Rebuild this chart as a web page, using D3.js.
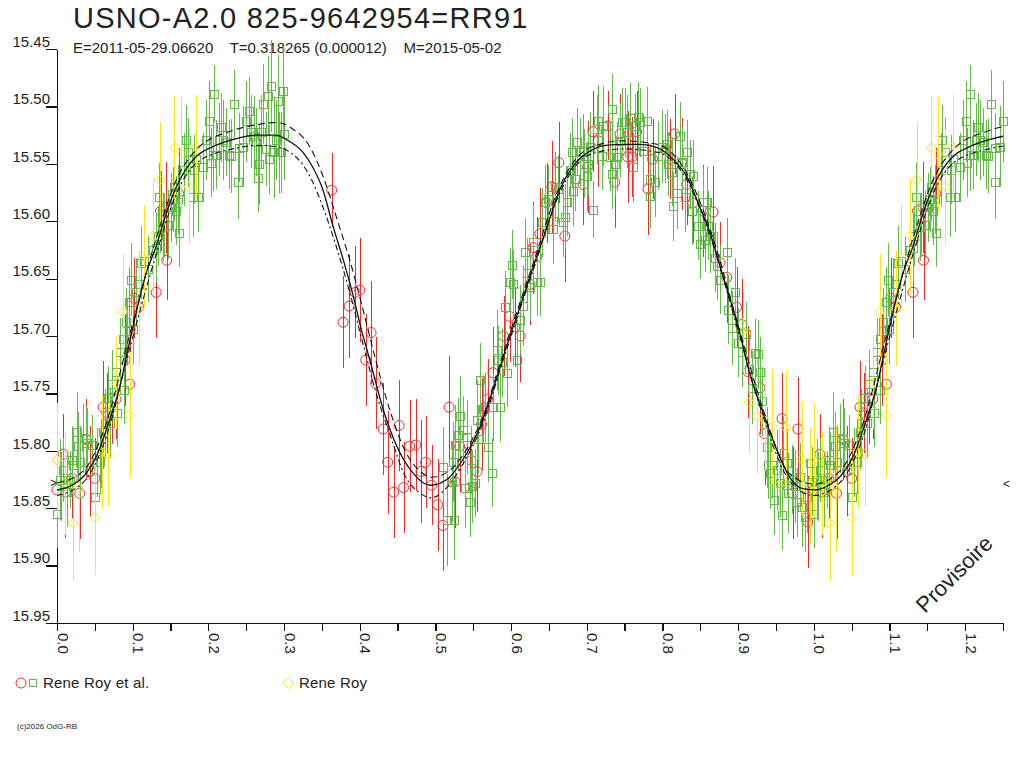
<!DOCTYPE html>
<html>
<head>
<meta charset="utf-8">
<script src="https://cdn.jsdelivr.net/npm/d3@7"></script>
<style>
  body { margin: 0; background: #fff; }
  svg { display: block; font-family: "Liberation Sans", Arial, sans-serif; }
</style>
</head>
<body>
<svg id="chart" width="1024" height="768"></svg>
<script>
let titleText = "USNO-A2.0 825-9642954=RR91";
let subtitleText = "E=2011-05-29.06620    T=0.318265 (0.000012)    M=2015-05-02";
let legendLabels = ["Rene Roy et al.", "Rene Roy"];
let stampText = "(c)2026 OdG-RB";
let watermark = "Provisoire";

let yTicks = [15.45, 15.50, 15.55, 15.60, 15.65, 15.70, 15.75, 15.80, 15.85, 15.90, 15.95];
let xTicks = [0, 0.05, 0.1, 0.15, 0.2, 0.25, 0.3, 0.35, 0.4, 0.45, 0.5, 0.55, 0.6, 0.65,
  0.7, 0.75, 0.8, 0.85, 0.9, 0.95, 1.0, 1.05, 1.1, 1.15, 1.2, 1.25];
let xLabelTicks = [0, 0.1, 0.2, 0.3, 0.4, 0.5, 0.6, 0.7, 0.8, 0.9, 1.0, 1.1, 1.2];
let minMark = 15.828;

// fitted light curve and its envelope: [phase, mag]
let curveMid = [
  [0.000, 15.834], [0.020, 15.830], [0.034, 15.823], [0.052, 15.805], [0.065, 15.782],
  [0.083, 15.744], [0.096, 15.705], [0.108, 15.670], [0.118, 15.645], [0.131, 15.622],
  [0.144, 15.594], [0.157, 15.571], [0.170, 15.555], [0.185, 15.543], [0.206, 15.535],
  [0.232, 15.529], [0.263, 15.525], [0.289, 15.525], [0.306, 15.530], [0.325, 15.540],
  [0.338, 15.553], [0.351, 15.572], [0.365, 15.605], [0.378, 15.633], [0.391, 15.664],
  [0.402, 15.694], [0.413, 15.720], [0.431, 15.764], [0.449, 15.796], [0.470, 15.819],
  [0.493, 15.830], [0.515, 15.825], [0.536, 15.808], [0.559, 15.779], [0.576, 15.747],
  [0.594, 15.709], [0.612, 15.674], [0.629, 15.640], [0.647, 15.606], [0.664, 15.573],
  [0.682, 15.552], [0.704, 15.539], [0.725, 15.534], [0.748, 15.533], [0.770, 15.533],
  [0.793, 15.536], [0.814, 15.546], [0.832, 15.561], [0.849, 15.587], [0.863, 15.610],
  [0.876, 15.639], [0.889, 15.667], [0.902, 15.697], [0.915, 15.732], [0.933, 15.767],
  [0.951, 15.799], [0.968, 15.823], [0.985, 15.833], [1.000, 15.834]
];
let curveUpper = [
  [0.000, 15.828], [0.034, 15.818], [0.065, 15.776], [0.096, 15.699], [0.131, 15.615],
  [0.157, 15.565], [0.185, 15.537], [0.232, 15.521], [0.263, 15.516], [0.290, 15.514],
  [0.310, 15.519], [0.333, 15.534], [0.351, 15.560], [0.369, 15.596], [0.386, 15.632],
  [0.404, 15.676], [0.420, 15.718], [0.440, 15.765], [0.460, 15.800], [0.480, 15.818],
  [0.495, 15.823], [0.515, 15.819], [0.536, 15.804], [0.559, 15.776], [0.594, 15.706],
  [0.629, 15.637], [0.664, 15.570], [0.704, 15.536], [0.748, 15.530], [0.793, 15.533],
  [0.832, 15.558], [0.863, 15.607], [0.902, 15.695], [0.933, 15.764], [0.968, 15.820],
  [1.000, 15.829]
];
let curveLower = [
  [0.000, 15.839], [0.034, 15.828], [0.065, 15.788], [0.096, 15.711], [0.131, 15.629],
  [0.157, 15.577], [0.185, 15.549], [0.232, 15.537], [0.263, 15.534], [0.290, 15.535],
  [0.310, 15.541], [0.325, 15.551], [0.338, 15.566], [0.351, 15.587], [0.369, 15.622],
  [0.386, 15.660], [0.404, 15.706], [0.420, 15.746], [0.440, 15.786], [0.460, 15.822],
  [0.480, 15.837], [0.495, 15.841], [0.515, 15.832], [0.536, 15.812], [0.559, 15.782],
  [0.594, 15.712], [0.629, 15.643], [0.664, 15.576], [0.704, 15.542], [0.748, 15.537],
  [0.793, 15.540], [0.832, 15.564], [0.863, 15.613], [0.902, 15.700], [0.933, 15.770],
  [0.968, 15.826], [1.000, 15.839]
];

// observations: [phase, mag, error]
let royEtAlRed = [
  [0.000, 15.834, 0.040], [0.008, 15.803, 0.035], [0.011, 15.836, 0.040], [0.020, 15.824, 0.035],
  [0.030, 15.837, 0.040], [0.038, 15.790, 0.035], [0.044, 15.818, 0.040], [0.050, 15.824, 0.035],
  [0.061, 15.762, 0.040], [0.066, 15.767, 0.035], [0.073, 15.754, 0.040], [0.078, 15.755, 0.035],
  [0.090, 15.721, 0.040], [0.096, 15.742, 0.045], [0.102, 15.667, 0.035], [0.108, 15.675, 0.040],
  [0.131, 15.662, 0.040], [0.137, 15.591, 0.035], [0.144, 15.588, 0.040], [0.145, 15.634, 0.035],
  [0.161, 15.576, 0.040], [0.363, 15.573, 0.032], [0.378, 15.688, 0.040], [0.386, 15.674, 0.045],
  [0.394, 15.662, 0.040], [0.400, 15.660, 0.045], [0.408, 15.721, 0.040], [0.415, 15.697, 0.045],
  [0.421, 15.741, 0.040], [0.431, 15.781, 0.040], [0.437, 15.810, 0.045], [0.445, 15.836, 0.040],
  [0.452, 15.778, 0.040], [0.458, 15.832, 0.040], [0.466, 15.796, 0.040], [0.474, 15.795, 0.040],
  [0.481, 15.818, 0.045], [0.487, 15.810, 0.040], [0.495, 15.830, 0.035], [0.503, 15.847, 0.040],
  [0.510, 15.865, 0.040], [0.518, 15.762, 0.045], [0.526, 15.827, 0.040], [0.532, 15.796, 0.040],
  [0.546, 15.832, 0.040], [0.555, 15.818, 0.035], [0.561, 15.777, 0.040], [0.569, 15.755, 0.035],
  [0.576, 15.732, 0.040], [0.590, 15.700, 0.035], [0.598, 15.683, 0.040], [0.605, 15.692, 0.035],
  [0.612, 15.700, 0.040], [0.625, 15.655, 0.035], [0.629, 15.623, 0.040], [0.634, 15.631, 0.035],
  [0.638, 15.611, 0.040], [0.647, 15.584, 0.035], [0.654, 15.570, 0.040], [0.663, 15.549, 0.035],
  [0.671, 15.613, 0.040], [0.695, 15.568, 0.035], [0.701, 15.553, 0.040], [0.708, 15.522, 0.035],
  [0.715, 15.530, 0.040], [0.728, 15.517, 0.030], [0.737, 15.566, 0.040], [0.744, 15.524, 0.035],
  [0.754, 15.544, 0.040], [0.760, 15.544, 0.035], [0.766, 15.522, 0.035], [0.781, 15.572, 0.040],
  [0.787, 15.546, 0.035], [0.810, 15.546, 0.035], [0.816, 15.524, 0.035], [0.826, 15.550, 0.040],
  [0.832, 15.568, 0.035], [0.840, 15.584, 0.035], [0.853, 15.591, 0.040], [0.867, 15.592, 0.040],
  [0.876, 15.636, 0.035], [0.885, 15.649, 0.040], [0.898, 15.675, 0.035], [0.905, 15.690, 0.040],
  [0.913, 15.731, 0.040], [0.929, 15.745, 0.040], [0.935, 15.785, 0.045], [0.958, 15.772, 0.040],
  [0.972, 15.837, 0.040], [0.979, 15.781, 0.045], [0.992, 15.862, 0.040]
];
let royEtAlGreen = [
  [0.000, 15.855, 0.030], [0.004, 15.825, 0.035], [0.005, 15.831, 0.030], [0.008, 15.817, 0.028],
  [0.011, 15.825, 0.032], [0.013, 15.836, 0.030], [0.017, 15.825, 0.025], [0.020, 15.808, 0.030],
  [0.021, 15.812, 0.028], [0.026, 15.784, 0.035], [0.028, 15.796, 0.030], [0.030, 15.810, 0.032],
  [0.034, 15.789, 0.030], [0.038, 15.790, 0.028], [0.040, 15.793, 0.030], [0.046, 15.795, 0.026],
  [0.050, 15.840, 0.030], [0.053, 15.810, 0.030], [0.057, 15.810, 0.028], [0.058, 15.802, 0.030],
  [0.061, 15.784, 0.032], [0.063, 15.776, 0.030], [0.067, 15.754, 0.028], [0.070, 15.776, 0.030],
  [0.073, 15.742, 0.030], [0.078, 15.731, 0.028], [0.079, 15.767, 0.030], [0.083, 15.714, 0.030],
  [0.087, 15.703, 0.026], [0.088, 15.747, 0.030], [0.091, 15.688, 0.030], [0.092, 15.696, 0.028],
  [0.095, 15.670, 0.030], [0.098, 15.651, 0.032], [0.100, 15.694, 0.030], [0.104, 15.662, 0.030],
  [0.108, 15.655, 0.028], [0.111, 15.636, 0.032], [0.115, 15.635, 0.030], [0.120, 15.642, 0.028],
  [0.127, 15.625, 0.030], [0.131, 15.623, 0.030], [0.133, 15.613, 0.026], [0.135, 15.579, 0.030],
  [0.140, 15.605, 0.030], [0.141, 15.603, 0.028], [0.147, 15.603, 0.030], [0.151, 15.588, 0.030],
  [0.153, 15.581, 0.028], [0.155, 15.570, 0.030], [0.157, 15.591, 0.030], [0.160, 15.581, 0.030],
  [0.161, 15.610, 0.030], [0.168, 15.555, 0.032], [0.170, 15.529, 0.030], [0.173, 15.540, 0.030],
  [0.180, 15.579, 0.035], [0.181, 15.555, 0.030], [0.184, 15.546, 0.032], [0.186, 15.579, 0.030],
  [0.193, 15.553, 0.030], [0.197, 15.529, 0.035], [0.201, 15.513, 0.035], [0.203, 15.549, 0.030],
  [0.206, 15.542, 0.032], [0.207, 15.489, 0.025], [0.210, 15.542, 0.030], [0.214, 15.529, 0.032],
  [0.217, 15.518, 0.030], [0.219, 15.529, 0.035], [0.223, 15.531, 0.030], [0.227, 15.542, 0.030],
  [0.230, 15.543, 0.032], [0.234, 15.498, 0.030], [0.239, 15.566, 0.032], [0.240, 15.536, 0.030],
  [0.246, 15.535, 0.035], [0.250, 15.513, 0.035], [0.254, 15.504, 0.030], [0.256, 15.522, 0.032],
  [0.260, 15.526, 0.035], [0.263, 15.531, 0.030], [0.266, 15.562, 0.030], [0.267, 15.550, 0.035],
  [0.269, 15.522, 0.032], [0.272, 15.498, 0.035], [0.276, 15.537, 0.032], [0.279, 15.491, 0.035],
  [0.280, 15.546, 0.030], [0.283, 15.482, 0.040], [0.287, 15.540, 0.040], [0.289, 15.529, 0.035],
  [0.292, 15.495, 0.040], [0.293, 15.540, 0.035], [0.296, 15.540, 0.035], [0.299, 15.487, 0.040],
  [0.300, 15.524, 0.040],
  [0.510, 15.814, 0.035], [0.515, 15.860, 0.040], [0.522, 15.827, 0.035], [0.523, 15.810, 0.035],
  [0.524, 15.860, 0.035], [0.526, 15.795, 0.035], [0.530, 15.786, 0.032], [0.532, 15.770, 0.035],
  [0.536, 15.782, 0.030], [0.539, 15.832, 0.035], [0.542, 15.788, 0.032], [0.546, 15.845, 0.030],
  [0.547, 15.808, 0.030], [0.548, 15.831, 0.032], [0.552, 15.828, 0.030], [0.555, 15.773, 0.035],
  [0.556, 15.790, 0.030], [0.559, 15.738, 0.032], [0.563, 15.764, 0.030], [0.565, 15.762, 0.030],
  [0.569, 15.797, 0.030], [0.575, 15.819, 0.030], [0.576, 15.762, 0.030], [0.581, 15.712, 0.035],
  [0.583, 15.721, 0.030], [0.585, 15.762, 0.030], [0.588, 15.723, 0.030], [0.592, 15.675, 0.032],
  [0.594, 15.732, 0.030], [0.598, 15.653, 0.030], [0.601, 15.638, 0.030], [0.602, 15.655, 0.030],
  [0.608, 15.721, 0.035], [0.612, 15.686, 0.030], [0.616, 15.674, 0.035], [0.618, 15.627, 0.030],
  [0.621, 15.645, 0.030], [0.625, 15.657, 0.030], [0.629, 15.618, 0.032], [0.634, 15.653, 0.030],
  [0.638, 15.653, 0.030], [0.641, 15.601, 0.030], [0.645, 15.583, 0.032], [0.649, 15.581, 0.030],
  [0.655, 15.607, 0.030], [0.656, 15.600, 0.028], [0.658, 15.570, 0.030], [0.662, 15.572, 0.030],
  [0.668, 15.601, 0.030], [0.671, 15.596, 0.028], [0.674, 15.583, 0.030], [0.678, 15.555, 0.032],
  [0.680, 15.540, 0.030], [0.682, 15.574, 0.030], [0.684, 15.563, 0.028], [0.687, 15.531, 0.030],
  [0.691, 15.540, 0.030], [0.695, 15.539, 0.032], [0.697, 15.550, 0.030], [0.700, 15.561, 0.030],
  [0.701, 15.550, 0.028], [0.704, 15.535, 0.030], [0.708, 15.590, 0.025], [0.713, 15.520, 0.030],
  [0.715, 15.513, 0.032], [0.720, 15.543, 0.030], [0.721, 15.517, 0.035], [0.731, 15.544, 0.030],
  [0.733, 15.502, 0.030], [0.734, 15.559, 0.030], [0.737, 15.550, 0.028], [0.740, 15.544, 0.030],
  [0.744, 15.530, 0.032], [0.746, 15.514, 0.030], [0.750, 15.514, 0.030], [0.753, 15.522, 0.032],
  [0.757, 15.510, 0.030], [0.761, 15.553, 0.030], [0.764, 15.517, 0.028], [0.768, 15.509, 0.030],
  [0.770, 15.514, 0.030], [0.774, 15.539, 0.032], [0.779, 15.513, 0.030], [0.783, 15.563, 0.030],
  [0.784, 15.578, 0.028], [0.790, 15.566, 0.030], [0.794, 15.543, 0.030], [0.799, 15.535, 0.032],
  [0.803, 15.537, 0.030], [0.806, 15.533, 0.030], [0.807, 15.550, 0.028], [0.812, 15.557, 0.030],
  [0.814, 15.587, 0.030], [0.819, 15.575, 0.032], [0.823, 15.526, 0.030], [0.826, 15.548, 0.030],
  [0.830, 15.579, 0.030], [0.832, 15.540, 0.028], [0.836, 15.559, 0.030], [0.839, 15.591, 0.030],
  [0.840, 15.561, 0.032], [0.847, 15.604, 0.030], [0.849, 15.620, 0.030], [0.853, 15.583, 0.030],
  [0.856, 15.616, 0.028], [0.859, 15.583, 0.030], [0.860, 15.604, 0.030], [0.863, 15.613, 0.032],
  [0.869, 15.632, 0.030], [0.872, 15.639, 0.030], [0.876, 15.651, 0.030], [0.885, 15.627, 0.030],
  [0.886, 15.677, 0.030], [0.892, 15.693, 0.032], [0.896, 15.662, 0.030], [0.900, 15.706, 0.030],
  [0.905, 15.714, 0.030], [0.911, 15.698, 0.028], [0.915, 15.729, 0.030], [0.919, 15.745, 0.032],
  [0.922, 15.715, 0.030], [0.926, 15.716, 0.030], [0.929, 15.731, 0.030], [0.931, 15.757, 0.030],
  [0.938, 15.797, 0.035], [0.939, 15.812, 0.030], [0.942, 15.819, 0.032], [0.945, 15.812, 0.030],
  [0.948, 15.843, 0.030], [0.951, 15.817, 0.035], [0.955, 15.828, 0.030], [0.958, 15.856, 0.030],
  [0.959, 15.802, 0.032], [0.964, 15.811, 0.030], [0.966, 15.837, 0.035], [0.971, 15.825, 0.030],
  [0.975, 15.831, 0.032], [0.978, 15.845, 0.030], [0.982, 15.823, 0.030], [0.985, 15.849, 0.035],
  [0.988, 15.858, 0.030], [0.991, 15.840, 0.032], [0.995, 15.811, 0.030], [0.997, 15.827, 0.030]
];
let royYellow = [
  [0.000, 15.808, 0.050], [0.011, 15.828, 0.045], [0.021, 15.863, 0.050], [0.029, 15.833, 0.055],
  [0.050, 15.858, 0.050], [0.059, 15.801, 0.050], [0.067, 15.803, 0.045], [0.078, 15.741, 0.040],
  [0.087, 15.679, 0.050], [0.096, 15.769, 0.055], [0.108, 15.676, 0.050], [0.115, 15.631, 0.045],
  [0.127, 15.613, 0.050], [0.136, 15.564, 0.050], [0.155, 15.536, 0.045], [0.164, 15.542, 0.050],
  [0.174, 15.570, 0.050], [0.184, 15.535, 0.045], [0.906, 15.696, 0.035], [0.915, 15.758, 0.045],
  [0.925, 15.770, 0.050], [0.935, 15.773, 0.045], [0.945, 15.779, 0.050], [0.954, 15.830, 0.050],
  [0.963, 15.780, 0.050], [0.984, 15.807, 0.050], [0.995, 15.830, 0.050]
];

let margin = { top: 49, left: 57, bottom: 623, right: 1003 };
let red = "#ee2b2b", green = "#62bb46", yellow = "#ffe614";

let svg = d3.select("#chart");

let x = d3.scaleLinear().domain([0, 1.25]).range([margin.left, margin.right]);
let y = d3.scaleLinear().domain([15.45, 15.95]).range([margin.top, margin.bottom]);

// phases 0..0.25 are shown a second time after 1.0
let withRepeat = pts => pts.concat(pts.filter(d => d[0] + 1 <= 1.25).map(d => [d[0] + 1, ...d.slice(1)]));

// title block
svg.append("text")
  .attr("x", 73).attr("y", 28)
  .attr("font-size", 29).attr("letter-spacing", 1.25)
  .attr("fill", "#222")
  .text(titleText);

svg.append("text")
  .attr("x", 73).attr("y", 53)
  .attr("font-size", 15)
  .attr("fill", "#222")
  .style("white-space", "pre")
  .text(subtitleText);

// axes
let xAxis = svg.append("g")
  .attr("transform", `translate(0,${margin.bottom})`)
  .call(d3.axisBottom(x)
    .tickValues(xTicks)
    .tickSize(8)
    .tickSizeOuter(0)
    .tickFormat(d => xLabelTicks.some(v => Math.abs(v - d) < 1e-9) ? d3.format(".1f")(d) : ""));

xAxis.selectAll("text")
  .attr("x", 0).attr("y", 0).attr("dy", 0)
  .attr("transform", "translate(0,10) rotate(90)")
  .style("text-anchor", "start")
  .attr("font-size", 15)
  .attr("font-family", "Liberation Sans, Arial, sans-serif")
  .attr("fill", "#222");

let yAxis = svg.append("g")
  .attr("transform", `translate(${margin.left},0)`)
  .call(d3.axisLeft(y)
    .tickValues(yTicks)
    .tickSize(11)
    .tickSizeOuter(0)
    .tickFormat(d3.format(".2f")));

yAxis.selectAll("text")
  .attr("x", -7).attr("dy", "-0.18em")
  .attr("font-size", 15)
  .attr("font-family", "Liberation Sans, Arial, sans-serif")
  .attr("fill", "#222");

svg.selectAll(".domain, .tick line")
  .attr("stroke", "#111")
  .attr("stroke-width", 1.2)
  .attr("shape-rendering", "crispEdges");

// observations
let plot = svg.append("g");

function drawSeries(pts, color, shape) {
  let g = plot.append("g");
  let rows = g.selectAll("g")
    .data(withRepeat(pts))
    .enter()
    .append("g");

  rows.append("line")
    .attr("x1", d => Math.round(x(d[0])) + 0.5)
    .attr("x2", d => Math.round(x(d[0])) + 0.5)
    .attr("y1", d => y(d[1] - d[2]))
    .attr("y2", d => y(d[1] + d[2]))
    .attr("stroke", color)
    .attr("stroke-width", 1.3)
    .attr("shape-rendering", "crispEdges");

  if (shape === "circle") {
    rows.append("circle")
      .attr("cx", d => x(d[0]))
      .attr("cy", d => y(d[1]))
      .attr("r", 5)
      .attr("fill", "none")
      .attr("stroke", color);
  } else if (shape === "square") {
    rows.append("rect")
      .attr("x", d => Math.round(x(d[0])) - 3.5)
      .attr("y", d => Math.round(y(d[1])) - 3.5)
      .attr("width", 8)
      .attr("height", 8)
      .attr("fill", "none")
      .attr("stroke", color)
      .attr("shape-rendering", "crispEdges");
  } else {
    rows.append("path")
      .attr("d", d => {
        let cx = x(d[0]), cy = y(d[1]);
        return `M${cx},${cy - 5}L${cx + 5},${cy}L${cx},${cy + 5}L${cx - 5},${cy}Z`;
      })
      .attr("fill", "none")
      .attr("stroke", color);
  }
}

drawSeries(royEtAlRed, red, "circle");
drawSeries(royEtAlGreen, green, "square");

// model curves
svg.append("clipPath").attr("id", "clip")
  .append("rect")
  .attr("x", margin.left).attr("y", margin.top)
  .attr("width", margin.right - margin.left)
  .attr("height", margin.bottom - margin.top);

let line = d3.line()
  .x(d => x(d[0]))
  .y(d => y(d[1]))
  .curve(d3.curveMonotoneX);

let extend = pts => pts.concat(pts.filter(d => d[0] > 0 && d[0] < 0.3).map(d => [d[0] + 1, d[1]]));

let curves = svg.append("g").attr("clip-path", "url(#clip)");
[
  { pts: curveUpper, dash: "7,4", w: 1.1 },
  { pts: curveLower, dash: "6,3,2,3", w: 1.1 },
  { pts: curveMid, dash: null, w: 1.3 }
].forEach(c => {
  curves.append("path")
    .datum(extend(c.pts))
    .attr("d", line)
    .attr("fill", "none")
    .attr("stroke", "#111")
    .attr("stroke-width", c.w)
    .attr("stroke-dasharray", c.dash);
});

drawSeries(royYellow, yellow, "diamond");

// minimum markers on both sides
svg.append("text")
  .attr("x", margin.left).attr("y", y(minMark) + 4)
  .attr("text-anchor", "end").attr("font-size", 12).attr("fill", "#222")
  .text(">");
svg.append("text")
  .attr("x", margin.right).attr("y", y(minMark) + 5)
  .attr("font-size", 12).attr("fill", "#222")
  .text("<");

// legend
let legend = svg.append("g").attr("transform", "translate(0,683)");
legend.append("circle")
  .attr("cx", 21).attr("cy", 0).attr("r", 5)
  .attr("fill", "none").attr("stroke", red);
legend.append("rect")
  .attr("x", 29.5).attr("y", -3.5).attr("width", 7).attr("height", 7)
  .attr("fill", "none").attr("stroke", green);
legend.append("text")
  .attr("x", 43).attr("y", 5)
  .attr("font-size", 15).attr("letter-spacing", 0.2).attr("fill", "#222")
  .text(legendLabels[0]);
legend.append("path")
  .attr("d", "M288.5,-5.5L294,0L288.5,5.5L283,0Z")
  .attr("fill", "none").attr("stroke", yellow);
legend.append("text")
  .attr("x", 299).attr("y", 5)
  .attr("font-size", 15).attr("letter-spacing", 0.2).attr("fill", "#222")
  .text(legendLabels[1]);

svg.append("text")
  .attr("x", 17).attr("y", 729)
  .attr("font-size", 8).attr("fill", "#222")
  .text(stampText);

svg.append("text")
  .attr("transform", "translate(925,614) rotate(-45)")
  .attr("font-size", 22).attr("fill", "#222")
  .text(watermark);
</script>
</body>
</html>
